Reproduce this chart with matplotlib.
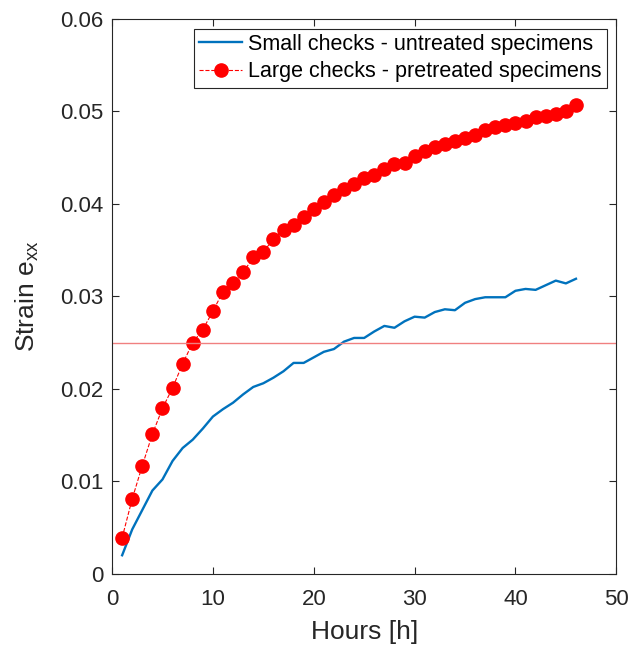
import numpy as np
import matplotlib.pyplot as plt

plt.rcParams['font.family'] = ['Liberation Sans', 'DejaVu Sans']

# Data
hours = np.arange(1, 47)
small_untreated = [0.0020, 0.0048, 0.0069, 0.0090, 0.0102, 0.0122, 0.0136, 0.0145, 0.0157, 0.0170,
                   0.0178, 0.0185, 0.0194, 0.0202, 0.0206, 0.0212, 0.0219, 0.0228, 0.0228, 0.0234,
                   0.0240, 0.0243, 0.0251, 0.0255, 0.0255, 0.0262, 0.0268, 0.0266, 0.0273, 0.0278,
                   0.0277, 0.0283, 0.0286, 0.0285, 0.0293, 0.0297, 0.0299, 0.0299, 0.0299, 0.0306,
                   0.0308, 0.0307, 0.0312, 0.0317, 0.0314, 0.0319]
large_pretreated = [0.0039, 0.0081, 0.0117, 0.0151, 0.0179, 0.0201, 0.0227, 0.0250, 0.0264, 0.0284,
                    0.0305, 0.0314, 0.0326, 0.0342, 0.0348, 0.0362, 0.0372, 0.0377, 0.0386, 0.0394,
                    0.0402, 0.0410, 0.0416, 0.0422, 0.0428, 0.0431, 0.0438, 0.0443, 0.0444, 0.0452,
                    0.0457, 0.0461, 0.0465, 0.0468, 0.0471, 0.0475, 0.0480, 0.0483, 0.0485, 0.0487,
                    0.0490, 0.0494, 0.0495, 0.0497, 0.0500, 0.0507]
threshold = 0.025

fig = plt.figure(figsize=(6.44, 6.52), dpi=100)
ax = fig.add_axes([0.174, 0.12, 0.783, 0.851])

ax.plot(hours, small_untreated, color='#0072BD', lw=1.7,
        label='Small checks - untreated specimens')
ax.plot(hours, large_pretreated, color='red', ls='--', lw=0.8, marker='o',
        markersize=9.5, label='Large checks - pretreated specimens')
ax.axhline(threshold, color='#F08080', lw=1.0)

ax.set_xlim(0, 50)
ax.set_ylim(0, 0.06)
ax.set_xticks([0, 10, 20, 30, 40, 50])
ax.set_yticks([0, 0.01, 0.02, 0.03, 0.04, 0.05, 0.06])
ax.set_yticklabels(['0', '0.01', '0.02', '0.03', '0.04', '0.05', '0.06'])
ax.tick_params(direction='in', top=True, right=True, labelsize=16,
               colors='#262626', length=5, width=0.8)
ax.tick_params(axis='x', pad=11)
ax.tick_params(axis='y', pad=6)
for s in ax.spines.values():
    s.set_color('#262626')
    s.set_linewidth(0.8)

ax.set_xlabel('Hours [h]', fontsize=19, color='#262626', labelpad=7)
ax.set_ylabel(r'Strain e$_{\mathregular{xx}}$', fontsize=19, color='#262626', labelpad=14)

leg = ax.legend(loc='upper right', fontsize=15.5, fancybox=False, framealpha=1,
                edgecolor='#262626', borderpad=0.25, labelspacing=0.3,
                handlelength=2.0, handletextpad=0.25, borderaxespad=0.45)
leg.get_frame().set_linewidth(0.8)

fig.savefig('out.png', dpi=100)
